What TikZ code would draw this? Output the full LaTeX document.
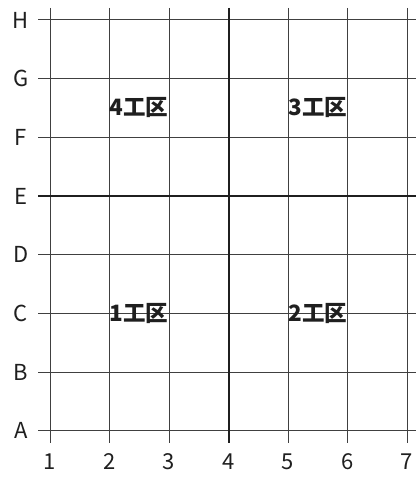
\documentclass[tikz,border=0pt]{standalone}
\usepackage{fontspec}
\setmainfont{Noto Sans CJK JP}
\begin{document}
\begin{tikzpicture}[x=1pt,y=-1pt,
  gridline/.style={draw=black!75,line width=1pt},
  axisline/.style={draw=black!88,line width=2pt},
  axlabel/.style={font=\fontsize{22}{22}\selectfont,text=black!88,inner sep=0pt},
  zonelabel/.style={font=\fontsize{22.5}{22.5}\selectfont\bfseries,text=black!88,inner sep=0pt}]
\useasboundingbox (0,0) rectangle (416,478);
% vertical grid lines and number labels
\foreach \i in {1,...,7}{
  \pgfmathsetmacro{\xx}{50+59.5*(\i-1)}
  \coordinate (vt\i) at (\xx,8);
  \coordinate (vb\i) at (\xx,443);
  \node[axlabel] (n\i) at (\xx,462) {\i};
}
% horizontal grid lines and letter labels
\foreach \L [count=\k from 0] in {H,G,F,E,D,C,B,A}{
  \pgfmathsetmacro{\yy}{20+58.67*\k}
  \coordinate (hl\L) at (38,\yy);
  \coordinate (hr\L) at (416,\yy);
  \node[axlabel] (l\L) at (21,\yy) {\L};
}
\foreach \i in {1,2,3,5,6,7}{ \draw[gridline] (vt\i) -- (vb\i); }
\foreach \L in {H,G,F,D,C,B,A}{ \draw[gridline] (hl\L) -- (hr\L); }
\draw[axisline] (vt4) -- (vb4);
\draw[axisline] (hlE) -- (hrE);
% zone labels
\node[zonelabel] (z4) at (139,108) {4工区};
\node[zonelabel] (z3) at (318,108) {3工区};
\node[zonelabel] (z1) at (139,313.3) {1工区};
\node[zonelabel] (z2) at (318,313.3) {2工区};
\end{tikzpicture}
\end{document}
